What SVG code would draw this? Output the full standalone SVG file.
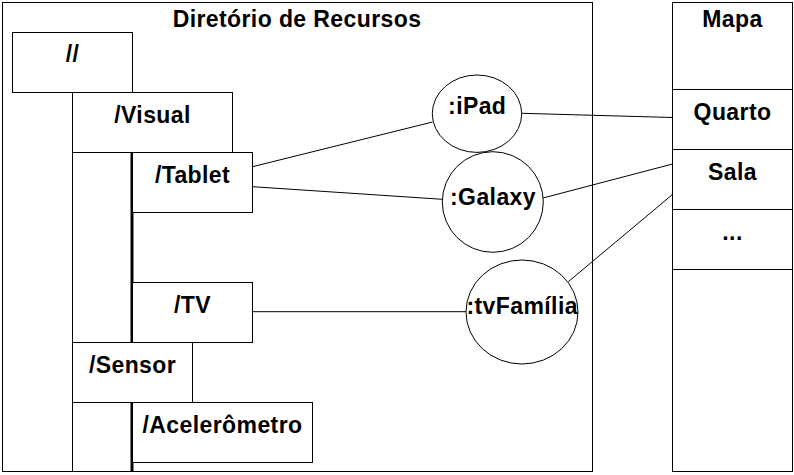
<svg xmlns="http://www.w3.org/2000/svg" width="794" height="475" viewBox="0 0 794 475">
<style>
.b{fill:#fff;stroke:#000;stroke-width:1}
.t{font-family:"Liberation Sans",Arial,Helvetica,sans-serif;font-weight:bold;font-size:23px;letter-spacing:0.4px;text-anchor:middle;fill:#000}
.c{stroke:#000;stroke-width:1;fill:none}
.k{stroke:#000;stroke-width:3;fill:none}
</style>
<rect width="794" height="475" fill="#fff"/>
<g id="diretorio">
<rect class="b" x="2.5" y="2.5" width="590" height="469"/>
<text class="t" x="297" y="27">Diretório de Recursos</text>
</g>
<g id="mapa">
<rect class="b" x="672.5" y="2.5" width="120" height="469"/>
<text class="t" x="732.5" y="27">Mapa</text>
</g>
<g id="quarto">
<rect class="b" x="672.5" y="89.5" width="120" height="60"/>
<text class="t" x="732.5" y="120">Quarto</text>
</g>
<g id="sala">
<rect class="b" x="672.5" y="149.5" width="120" height="60"/>
<text class="t" x="732.5" y="180">Sala</text>
</g>
<g id="etc">
<rect class="b" x="672.5" y="209.5" width="120" height="60"/>
<text class="t" x="732.5" y="240">...</text>
</g>
<g id="raiz">
<rect class="b" x="12.5" y="32.5" width="120" height="60"/>
<text class="t" x="72.5" y="62">//</text>
</g>
<g id="visual">
<path class="c" d="M72.5 92.5V471.5M72.5 152.5H132.5"/>
<rect class="b" x="72.5" y="92.5" width="160" height="60"/>
<text class="t" x="152.5" y="123">/Visual</text>
<path class="k" d="M132 152.5V342.5"/>
</g>
<g id="tablet">
<rect class="b" x="132.5" y="152.5" width="120" height="60"/>
<text class="t" x="192.5" y="183">/Tablet</text>
</g>
<g id="tv">
<rect class="b" x="132.5" y="282.5" width="120" height="60"/>
<text class="t" x="192.5" y="313">/TV</text>
</g>
<g id="sensor">
<rect class="b" x="72.5" y="342.5" width="120" height="60"/>
<text class="t" x="132.5" y="373">/Sensor</text>
<path class="k" d="M132 402.5V471"/>
</g>
<g id="acelerometro">
<rect class="b" x="132.5" y="402.5" width="180" height="60"/>
<text class="t" x="222.5" y="433">/Acelerômetro</text>
</g>
<g id="connectors">
<path class="c" d="M252.5 166.7L432.5 122"/>
<path class="c" d="M252.5 186.7L442.3 199.3"/>
<path class="c" d="M522 113.3L672.5 117.5"/>
<path class="c" d="M543 198L672.5 164"/>
<path class="c" d="M252.5 311.7H466"/>
<path class="c" d="M568.3 281.7L672.5 194.5"/>
</g>
<g id="ipad">
<ellipse class="b" cx="477" cy="113.7" rx="44.7" ry="38.7"/>
<text class="t" x="477.2" y="113.5">:iPad</text>
</g>
<g id="galaxy">
<ellipse class="b" cx="492.8" cy="202" rx="50.5" ry="50.3"/>
<text class="t" x="493" y="205">:Galaxy</text>
</g>
<g id="tvfamilia">
<ellipse class="b" cx="522" cy="312" rx="56" ry="52"/>
<text class="t" x="522.2" y="313.5">:tvFamília</text>
</g>
</svg>
